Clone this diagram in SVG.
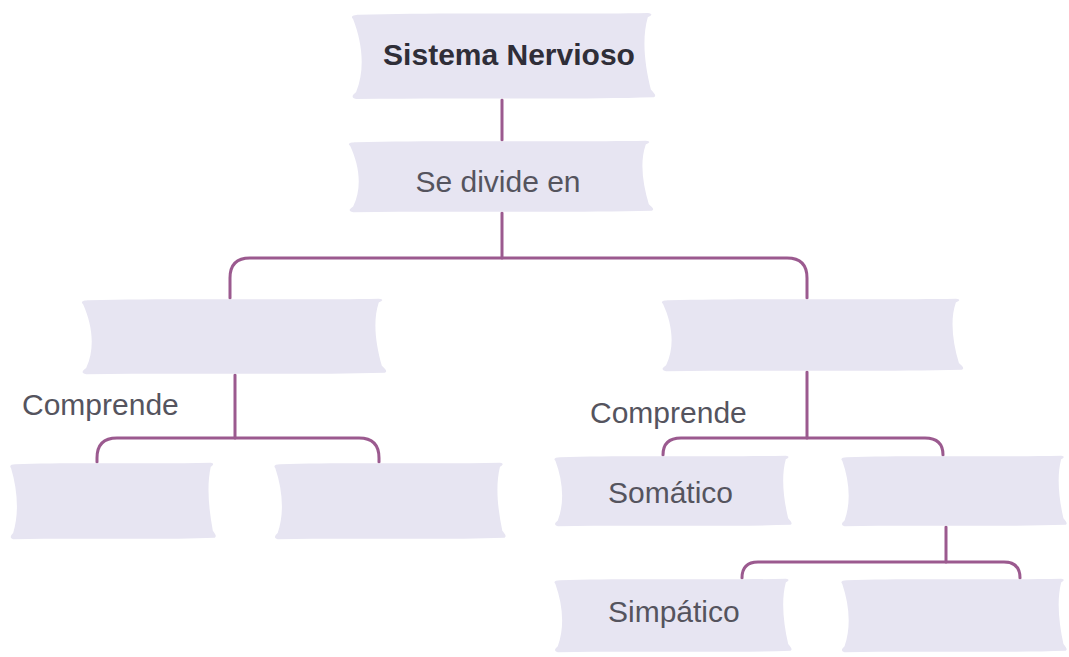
<svg xmlns="http://www.w3.org/2000/svg" xmlns:xlink="http://www.w3.org/1999/xlink" width="1069" height="657" viewBox="0 0 1069 657">
<style>
.blob{fill:#e7e5f2}
.conn path{fill:none;stroke:#9b5a8f;stroke-width:3;stroke-linecap:round}
.lbl{font-family:"Liberation Sans",Arial,sans-serif;font-size:30px;fill:#55545e}
.title{font-family:"Liberation Sans",Arial,sans-serif;font-size:30px;font-weight:bold;fill:#2f2e38}
</style>
<defs>
<path id="blob" d="M3,3 C30,0 70,3 97,1 C99,2 98,4 97,6 C95,30 96,60 98,88 C99,92 100,95 99,97 C70,100 35,97 2,99 C0,97 1,94 2,91 C5,65 4,35 1,8 C0,5 1,3 3,3 Z"/>
</defs>
<rect width="1069" height="657" fill="#ffffff"/>
<g id="connectors" class="conn">
<path d="M502,100 V140"/>
<path d="M502,213 V258"/>
<path d="M230,298 V278 Q230,258 250,258 H787 Q807,258 807,278 V298"/>
<path d="M235,375 V438"/>
<path d="M97,462 V458 Q97,438 117,438 H359 Q379,438 379,458 V462"/>
<path d="M807,372 V438"/>
<path d="M663,455 Q663,438 681,438 H925 Q943,438 943,455"/>
<path d="M946,527 V562"/>
<path d="M742,578 Q742,562 758,562 H1004 Q1020,562 1020,578"/>
</g>
<g id="n1">
<use xlink:href="#blob" class="blob" transform="translate(350,12) scale(3.07,0.88)"/>
<text class="title" x="509" y="65" text-anchor="middle">Sistema Nervioso</text>
</g>
<g id="n2">
<use xlink:href="#blob" class="blob" transform="translate(347,140) scale(3.08,0.73)"/>
<text class="lbl" x="498" y="192" text-anchor="middle">Se divide en</text>
</g>
<g id="n3">
<use xlink:href="#blob" class="blob" transform="translate(80,298) scale(3.08,0.77)"/>
</g>
<g id="n4">
<use xlink:href="#blob" class="blob" transform="translate(660,298) scale(3.05,0.74)"/>
</g>
<g id="lbl-left">
<text class="lbl" x="22" y="415">Comprende</text>
</g>
<g id="lbl-right">
<text class="lbl" x="590" y="423">Comprende</text>
</g>
<g id="n5">
<use xlink:href="#blob" class="blob" transform="translate(9,462) scale(2.08,0.78)"/>
</g>
<g id="n6">
<use xlink:href="#blob" class="blob" transform="translate(273,462) scale(2.34,0.78)"/>
</g>
<g id="n7">
<use xlink:href="#blob" class="blob" transform="translate(553,455) scale(2.40,0.72)"/>
<text class="lbl" x="608" y="503">Somático</text>
</g>
<g id="n8">
<use xlink:href="#blob" class="blob" transform="translate(840,455) scale(2.28,0.72)"/>
</g>
<g id="n9">
<use xlink:href="#blob" class="blob" transform="translate(553,578) scale(2.40,0.75)"/>
<text class="lbl" x="608" y="622">Simpático</text>
</g>
<g id="n10">
<use xlink:href="#blob" class="blob" transform="translate(840,578) scale(2.28,0.75)"/>
</g>
</svg>
